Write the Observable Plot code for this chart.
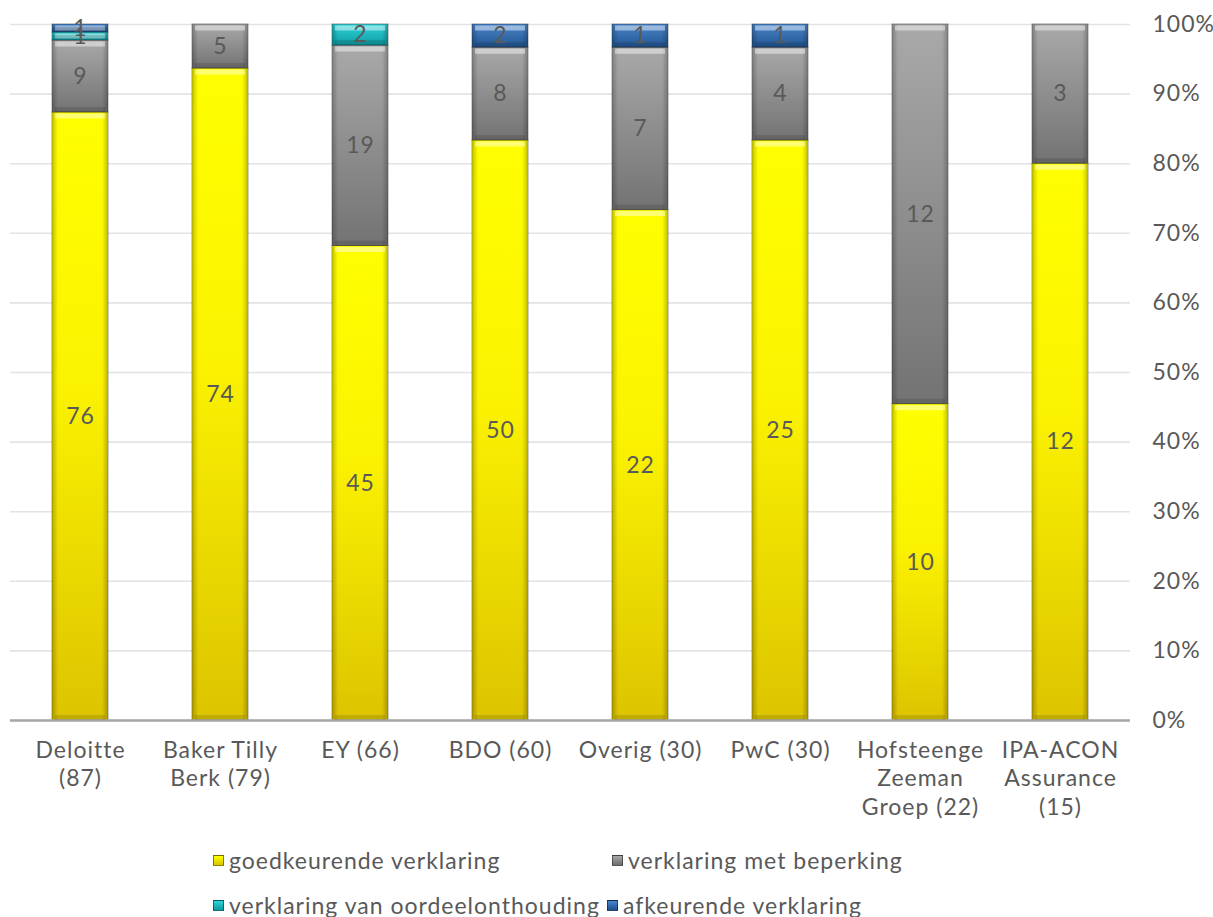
<!DOCTYPE html>
<html><head><meta charset="utf-8">
<script src="https://cdn.jsdelivr.net/npm/d3@7"></script>
<script src="https://cdn.jsdelivr.net/npm/@observablehq/plot@0.6"></script>
<style>
body{margin:0;background:#fff;font-family:Lato,"Open Sans",sans-serif;color:#595959;}
#legend{position:relative;height:82px;font-size:23px;letter-spacing:1px;}
.item{position:absolute;display:flex;align-items:center;white-space:nowrap;height:30px;}
.sw{width:11px;height:11px;margin-right:5px;box-sizing:border-box;border:1px solid rgba(0,0,0,0.45);}
svg text{letter-spacing:1px;}
</style></head><body><div id="chart"></div><div id="legend"></div>
<script>
const categories = ["Deloitte\n(87)", "Baker Tilly\nBerk (79)", "EY (66)", "BDO (60)", "Overig (30)", "PwC (30)", "Hofsteenge\nZeeman\nGroep (22)", "IPA-ACON\nAssurance\n(15)"];
const seriesNames = ["goedkeurende verklaring", "verklaring met beperking", "verklaring van oordeelonthouding", "afkeurende verklaring"];
const goedkeurend = [76, 74, 45, 50, 22, 25, 10, 12];
const beperking = [9, 5, 19, 8, 7, 4, 12, 3];
const oordeelonthouding = [1, 0, 2, 0, 0, 0, 0, 0];
const afkeurend = [1, 0, 0, 2, 1, 1, 0, 0];
const yTicks = [0, 0.1, 0.2, 0.3, 0.4, 0.5, 0.6, 0.7, 0.8, 0.9, 1];

const seriesValues = [goedkeurend, beperking, oordeelonthouding, afkeurend];
const data = [];
seriesNames.forEach((s, i) => {
  categories.forEach((c, j) => {
    if (seriesValues[i][j] > 0) data.push({cat: c, series: s, value: seriesValues[i][j]});
  });
});

const gradIds = ["url(#gY)", "url(#gG)", "url(#gC)", "url(#gB)"];
const swatchCss = [
  "linear-gradient(#ffff00,#d8c400)",
  "linear-gradient(#a8a8a8,#6e6e6e)",
  "linear-gradient(#2fd3d8,#0e9aa0)",
  "linear-gradient(#4a86cc,#1f4f8e)"
];

const H = 835;
const stackOpts = {x: "cat", y: "value", z: "series", offset: "normalize"};

const svg = Plot.plot({
  width: 1213,
  height: H,
  marginLeft: 10,
  marginRight: 83,
  marginTop: 24,
  marginBottom: H - 720,
  style: {fontFamily: "Lato, 'Open Sans', sans-serif", color: "#595959", background: "#fff", overflow: "visible"},
  x: {type: "band", domain: categories, paddingInner: 0.6, paddingOuter: 0.3, axis: null, label: null},
  y: {domain: [0, 1], axis: null, label: null},
  color: {type: "ordinal", domain: seriesNames, range: gradIds},
  marks: [
    Plot.gridY(yTicks, {stroke: "#e3e3e3", strokeOpacity: 1, strokeWidth: 1.6}),
    Plot.rectY(data, Plot.stackY({...stackOpts, fill: "series", stroke: "rgba(0,0,0,0.38)", strokeWidth: 1})),
    Plot.rectY(data, Plot.stackY({...stackOpts, fill: "url(#side)", inset: 0.5})),
    Plot.tickY(data, Plot.stackY2({...stackOpts, stroke: "rgba(255,255,255,0.45)", strokeWidth: 5, dy: 3.5, inset: 3})),
    Plot.tickY(data, Plot.stackY1({...stackOpts, stroke: "rgba(0,0,0,0.12)", strokeWidth: 5, dy: -3, inset: 3})),
    Plot.ruleY([0], {stroke: "#a6a6a6", strokeWidth: 2.5}),
    Plot.text(data, Plot.stackY({...stackOpts, text: "value", fontSize: 23, fill: "#595959"})),
    Plot.axisY(yTicks, {anchor: "right", label: null, tickFormat: d3.format(".0%"), tickSize: 0, tickPadding: 22, fontSize: 23, fill: "#595959", textAnchor: "start"}),
    Plot.axisX({label: null, tickSize: 0, tickPadding: 17, fontSize: 23, lineHeight: 1.24, fill: "#595959"})
  ]
});

const defs = d3.select(svg).insert("defs", ":first-child");
function vgrad(id, stops, horizontal) {
  const g = defs.append("linearGradient").attr("id", id)
    .attr("x1", 0).attr("y1", 0).attr("x2", horizontal ? 1 : 0).attr("y2", horizontal ? 0 : 1);
  stops.forEach(([o, c, op]) => g.append("stop").attr("offset", o).attr("stop-color", c).attr("stop-opacity", op == null ? 1 : op));
}
vgrad("gY", [[0, "#ffff00"], [0.45, "#fbf200"], [1, "#dcc400"]]);
vgrad("gG", [[0, "#a9a9a9"], [1, "#737373"]]);
vgrad("gC", [[0, "#2fd3d8"], [1, "#0e9ca2"]]);
vgrad("gB", [[0, "#4a86cc"], [1, "#22558f"]]);
vgrad("side", [[0, "#000", 0.22], [0.1, "#000", 0.0], [0.9, "#000", 0.0], [1, "#000", 0.22]], true);

document.getElementById("chart").appendChild(svg);

const legend = document.getElementById("legend");
const pos = [[213, 10], [612, 10], [213, 55], [607, 55]];
seriesNames.forEach((s, i) => {
  const it = document.createElement("div");
  it.className = "item";
  it.style.left = pos[i][0] + "px";
  it.style.top = pos[i][1] + "px";
  const sw = document.createElement("span");
  sw.className = "sw";
  sw.style.background = swatchCss[i];
  const t = document.createElement("span");
  t.textContent = s;
  it.appendChild(sw); it.appendChild(t);
  legend.appendChild(it);
});
</script></body></html>
